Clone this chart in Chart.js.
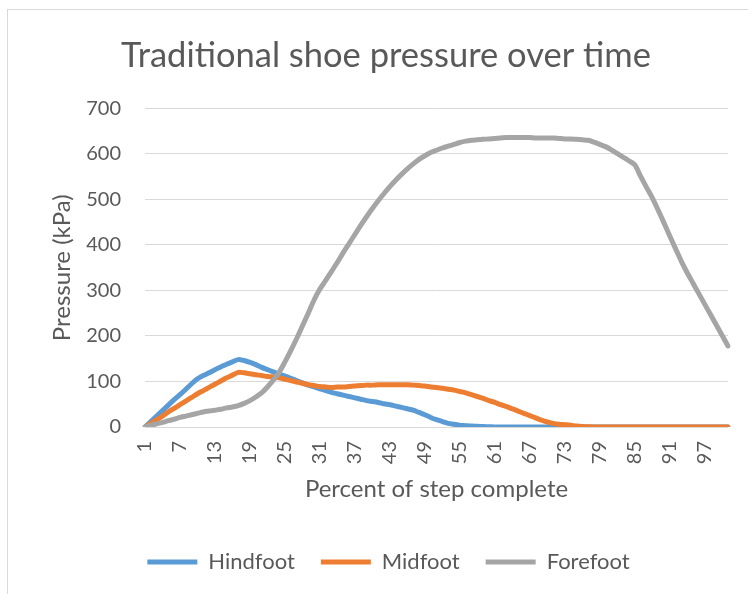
<!DOCTYPE html>
<html>
<head>
<meta charset="utf-8">
<script src="https://cdn.jsdelivr.net/npm/chart.js@4.4.0/dist/chart.umd.min.js"></script>
<style>
  html, body { margin: 0; padding: 0; background: #fff; }
  #wrap { position: relative; width: 748px; height: 594px; overflow: hidden; }
  #frame { position: absolute; left: 7px; top: 9px; width: 800px; height: 700px; border: 1px solid #d9d9d9; }
  canvas { position: absolute; left: 0; top: 0; }
</style>
</head>
<body>
<div id="wrap">
  <div id="frame"></div>
  <canvas id="chart" width="748" height="594"></canvas>
</div>
<script>
// step numbers 1..101 (percent of step)
const steps = Array.from({ length: 101 }, (_, i) => String(i + 1));

const hindfoot = [
    0, 12, 24, 36, 48, 60, 71, 83, 95, 106,
    113, 119, 126, 132, 138, 143, 148, 146, 142, 137,
    131, 126, 121, 116, 112, 107, 102, 97, 92, 88,
    84, 80, 76, 73, 70, 67, 64, 61, 58, 56,
    54, 51, 49, 46, 43, 40, 37, 32, 27, 21,
    16, 12, 8, 6, 4, 3, 2, 1.5, 1, 0.5,
    0, 0, 0, 0, 0, 0, 0, 0, 0, 0,
    0, 0, 0, 0, 0, 0, 0, 0, 0, 0,
    0, 0, 0, 0, 0, 0, 0, 0, 0, 0,
    0, 0, 0, 0, 0, 0, 0, 0, 0, 0, 0
];

const midfoot = [
    0, 8, 16, 24, 33, 41, 49, 57, 65, 73,
    80, 87, 94, 101, 108, 114, 120, 119, 117, 115,
    113, 111, 110, 108, 105, 102, 99, 96, 93, 91,
    89, 88, 87, 88, 88, 89, 90, 91, 92, 92,
    93, 93, 93, 93, 93, 93, 92, 91, 90, 88,
    87, 85, 83, 81, 78, 75, 71, 67, 63, 58,
    54, 49, 45, 40, 35, 30, 25, 20, 15, 11,
    8, 6, 5, 4, 2, 1, 0.5, 0, 0, 0,
    0, 0, 0, 0, 0, 0, 0, 0, 0, 0,
    0, 0, 0, 0, 0, 0, 0, 0, 0, 0, 0
];

const forefoot = [
    0, 4, 7, 10, 14, 17, 21, 24, 27, 30,
    33, 35, 37, 39, 42, 44, 47, 52, 58, 66,
    75, 88, 103, 120, 143, 168, 194, 222, 250, 279,
    303, 322, 342, 362, 383, 403, 423, 443, 462, 480,
    497, 513, 528, 542, 555, 567, 578, 588, 596, 603,
    608, 613, 617, 621, 625, 628, 630, 631, 632, 633,
    634, 635, 636, 636, 636, 636, 636, 635, 635, 635,
    635, 634, 633, 633, 632, 631, 630, 626, 621, 616,
    609, 601, 593, 585, 576, 551, 527, 504, 477, 449,
    420, 392, 364, 339, 316, 293, 270, 247, 224, 201, 178
];

const seriesNames = ['Hindfoot', 'Midfoot', 'Forefoot'];
const seriesColors = ['#5B9BD5', '#ED7D31', '#A5A5A5'];

Chart.defaults.font.family = 'Lato, "Liberation Sans", sans-serif';
Chart.defaults.color = '#595959';

// nudge title and legend a bit right, the excel chart centres them on the whole frame
const nudgeBlocks = {
    id: 'nudgeBlocks',
    afterLayout(chart) {
        chart.titleBlock.left += 14;
        chart.legend.left += 19;
    }
};

const ctx = document.getElementById('chart');

new Chart(ctx, {
    type: 'line',
    data: {
        labels: steps,
        datasets: [hindfoot, midfoot, forefoot].map((vals, i) => ({
            label: seriesNames[i],
            data: vals,
            borderColor: seriesColors[i],
            backgroundColor: seriesColors[i],
            borderWidth: 5,
            borderCapStyle: 'round',
            borderJoinStyle: 'round',
            order: 2 - i   // forefoot drawn on top, like the original
        }))
    },
    plugins: [nudgeBlocks],
    options: {
        responsive: false,
        animation: false,
        devicePixelRatio: 1,
        layout: {
            padding: { top: 10, left: 30, right: 20, bottom: 11 }
        },
        elements: {
            point: { radius: 0 },
            line: { tension: 0.3 }
        },
        plugins: {
            title: {
                display: true,
                text: 'Traditional shoe pressure over time',
                color: '#595959',
                font: { size: 34.5, weight: 400 },
                padding: { top: 25, bottom: 32 }
            },
            legend: {
                position: 'bottom',
                labels: {
                    usePointStyle: true,
                    pointStyle: 'line',
                    pointStyleWidth: 50,
                    padding: 26,
                    color: '#595959',
                    font: { size: 22 },
                    sort: (a, b) => a.datasetIndex - b.datasetIndex
                }
            },
            tooltip: { enabled: false }
        },
        scales: {
            x: {
                offset: false,
                afterFit: (scale) => { scale.paddingLeft = 0; scale.paddingRight = 0; },
                grid: { display: false },
                border: { display: false },
                ticks: {
                    autoSkip: false,
                    maxRotation: 90,
                    minRotation: 90,
                    padding: 6,
                    font: { size: 20 },
                    callback: function (v, i) {
                        return i % 6 === 0 ? this.getLabelForValue(v) : '';
                    }
                },
                title: {
                    display: true,
                    text: 'Percent of step complete',
                    font: { size: 24 },
                    padding: { top: 5, bottom: 21 }
                }
            },
            y: {
                min: 0,
                max: 700,
                afterFit: (scale) => { scale.width = 115; },
                ticks: { stepSize: 100, padding: 24, font: { size: 20 } },
                grid: { color: '#d9d9d9', drawTicks: false },
                border: { display: false },
                title: {
                    display: true,
                    text: 'Pressure (kPa)',
                    font: { size: 24 },
                    padding: { top: 18, bottom: 4 }
                }
            }
        }
    }
});
</script>
</body>
</html>
